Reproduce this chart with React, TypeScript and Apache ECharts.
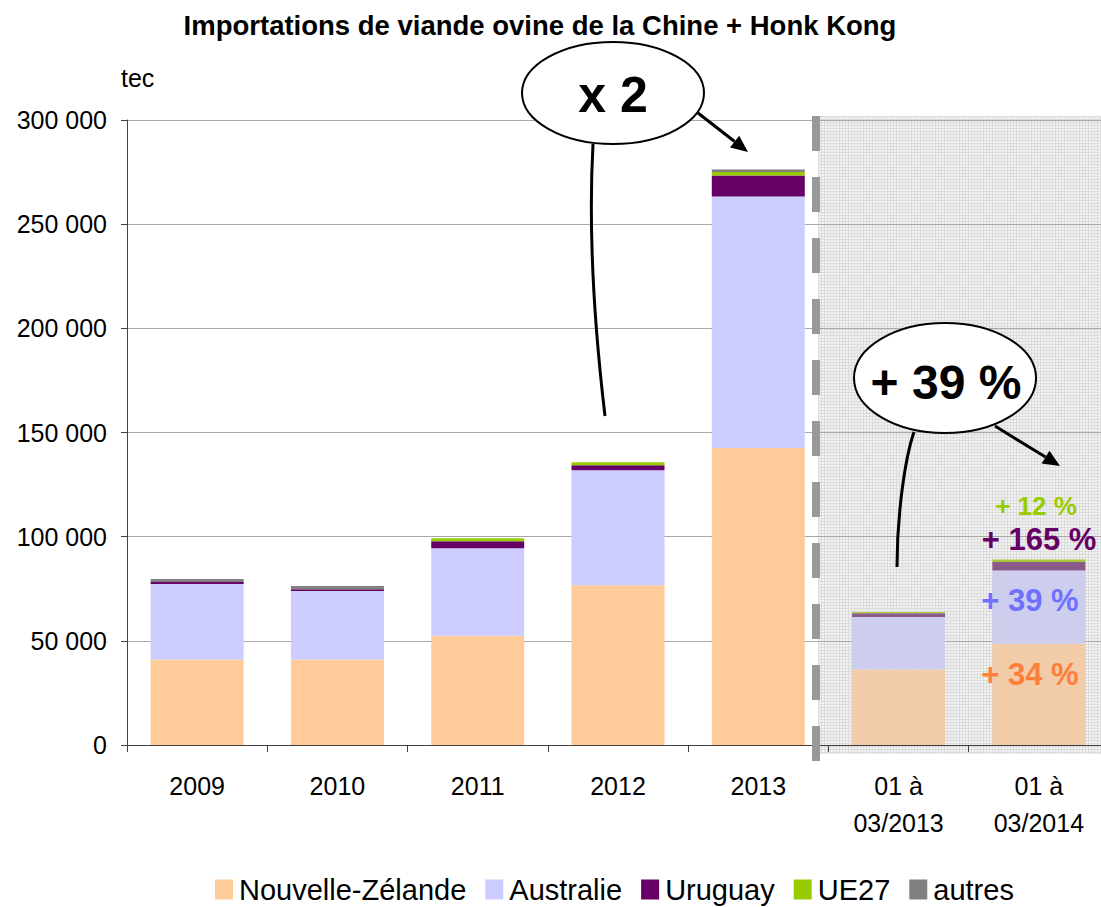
import React, { useEffect, useRef } from "react";
import * as echarts from "echarts";

const categories = ["2009", "2010", "2011", "2012", "2013", "01 à\n03/2013", "01 à\n03/2014"];
const seriesNames = ["Nouvelle-Zélande", "Australie", "Uruguay", "UE27", "autres"];
const nzValues = [41000, 41000, 52400, 76700, 142600, 36300, 48600];
const ausValues = [36300, 32900, 42100, 55200, 120700, 25200, 35200];
const uyValues = [1000, 900, 3300, 2400, 10100, 1700, 4000];
const ueValues = [0, 0, 1500, 1400, 1600, 600, 1300];
const otherValues = [1400, 1500, 0, 0, 1300, 0, 0];
const partialIndices = [5, 6];

const colors = ["#ffcc99", "#ccccff", "#660066", "#99cc00", "#808080"];
const washedColors = ["#f2cba8", "#cdcdee", "#8a5a8a", "#a6c83a", "#8c8c8c"];

const FONT = "'Liberation Sans', Arial, sans-serif";

const tileSvg =
  "<svg xmlns='http://www.w3.org/2000/svg' width='3' height='3'>" +
  "<rect width='3' height='3' fill='#f2f2f2'/>" +
  "<rect x='2' width='1' height='3' fill='#dcdcdc'/>" +
  "<rect y='2' width='3' height='1' fill='#dcdcdc'/></svg>";
const tileUrl = "data:image/svg+xml;charset=utf-8," + encodeURIComponent(tileSvg);

function fmt(v: number) {
  return String(v).replace(/\B(?=(\d{3})+(?!\d))/g, " ");
}

function arrow(x1: number, y1: number, x2: number, y2: number) {
  const dx = x2 - x1;
  const dy = y2 - y1;
  const len = Math.sqrt(dx * dx + dy * dy);
  const ux = dx / len;
  const uy = dy / len;
  const hl = 17;
  const hw = 7.5;
  const bx = x2 - ux * hl;
  const by = y2 - uy * hl;
  return [
    { type: "line", z: 20, shape: { x1, y1, x2: bx, y2: by }, style: { stroke: "#000", lineWidth: 3 } },
    {
      type: "polygon",
      z: 20,
      shape: { points: [[x2, y2], [bx - uy * hw, by + ux * hw], [bx + uy * hw, by - ux * hw]] },
      style: { fill: "#000" },
    },
  ];
}

export default function App() {
  const ref = useRef<HTMLDivElement>(null);

  useEffect(() => {
    if (!ref.current) return;
    const chart = echarts.init(ref.current, null, { renderer: "svg" });
    const valueSets = [nzValues, ausValues, uyValues, ueValues, otherValues];

    const series = valueSets.map((vals, si) => ({
      name: seriesNames[si],
      type: "bar",
      stack: "total",
      barWidth: 93,
      itemStyle: { color: colors[si] },
      z: 2,
      data: vals.map((v, i) =>
        partialIndices.includes(i) ? { value: v, itemStyle: { color: washedColors[si] } } : v
      ),
    }));

    const labelText = (text: string, x: number, y: number, size: number, color: string) => ({
      type: "text",
      z: 25,
      x,
      y,
      style: {
        text,
        fill: color,
        font: `bold ${size}px ${FONT}`,
        textAlign: "center",
        textVerticalAlign: "middle",
      },
    });

    chart.setOption({
      animation: false,
      backgroundColor: "#ffffff",
      textStyle: { fontFamily: FONT },
      grid: { left: 127, top: 120, width: 982, height: 625, containLabel: false },
      legend: {
        data: seriesNames,
        left: 210,
        top: 870,
        icon: "rect",
        itemWidth: 18,
        itemHeight: 20,
        itemGap: 19,
        textStyle: { fontSize: 29, color: "#000", fontFamily: FONT, padding: [0, 0, 0, 1] },
      },
      xAxis: {
        type: "category",
        data: categories,
        axisLine: { lineStyle: { color: "#404040", width: 1 } },
        axisTick: { show: true, length: 7, interval: 0, lineStyle: { color: "#404040" } },
        axisLabel: { interval: 0, fontSize: 25, color: "#000", margin: 22, lineHeight: 37, fontFamily: FONT },
        splitLine: { show: false },
      },
      yAxis: {
        type: "value",
        min: 0,
        max: 300000,
        interval: 50000,
        axisLine: { show: true, lineStyle: { color: "#404040", width: 1 } },
        axisTick: { show: true, length: 6, lineStyle: { color: "#404040" } },
        axisLabel: { fontSize: 25, color: "#000", margin: 20, formatter: (v: number) => fmt(v), fontFamily: FONT },
        splitLine: { lineStyle: { color: "#a8a8a8", width: 1 } },
      },
      series,
      graphic: {
        elements: [
          {
            type: "rect",
            z: -10,
            shape: { x: 818, y: 116, width: 300, height: 638 },
            style: { fill: { image: tileUrl, repeat: "repeat", imageWidth: 3, imageHeight: 3 } },
          },
          {
            type: "line",
            z: 15,
            shape: { x1: 816, y1: 116, x2: 816, y2: 764 },
            style: { stroke: "#999999", lineWidth: 8, lineDash: [35, 26] },
          },
          {
            type: "text",
            z: 25,
            x: 540,
            y: 25,
            style: {
              text: "Importations de viande ovine de la Chine + Honk Kong",
              fill: "#000",
              font: `bold 27.5px ${FONT}`,
              textAlign: "center",
              textVerticalAlign: "middle",
            },
          },
          {
            type: "text",
            z: 25,
            x: 121,
            y: 78,
            style: { text: "tec", fill: "#000", font: `25px ${FONT}`, textAlign: "left", textVerticalAlign: "middle" },
          },
          {
            type: "bezierCurve",
            z: 20,
            shape: { x1: 593, y1: 144, cpx1: 588, cpy1: 235, cpx2: 596, cpy2: 340, x2: 605, y2: 416 },
            style: { stroke: "#000", lineWidth: 3, fill: null },
          },
          {
            type: "ellipse",
            z: 21,
            shape: { cx: 613, cy: 93, rx: 91, ry: 51 },
            style: { fill: "#fff", stroke: "#000", lineWidth: 2 },
          },
          labelText("x 2", 613, 95, 50, "#000"),
          ...arrow(698, 113, 748, 152),
          {
            type: "bezierCurve",
            z: 20,
            shape: { x1: 914, y1: 432, cpx1: 905, cpy1: 458, cpx2: 897, cpy2: 515, x2: 897, y2: 567 },
            style: { stroke: "#000", lineWidth: 3, fill: null },
          },
          {
            type: "ellipse",
            z: 21,
            shape: { cx: 945, cy: 378, rx: 91, ry: 55 },
            style: { fill: "#fff", stroke: "#000", lineWidth: 2 },
          },
          labelText("+ 39 %", 946, 382, 48, "#000"),
          ...arrow(995, 426, 1060, 466),
          labelText("+ 12 %", 1036, 506, 26, "#99cc00"),
          labelText("+ 165 %", 1039, 539, 31, "#660066"),
          labelText("+ 39 %", 1030, 600, 31, "#7070ff"),
          labelText("+ 34 %", 1030, 674, 31, "#ff7f3a"),
        ],
      },
    });

    return () => chart.dispose();
  }, []);

  return (
    <div
      style={{
        position: "fixed",
        left: 0,
        top: 0,
        width: 1101,
        height: 907,
        overflow: "hidden",
        background: "#fff",
      }}
    >
      <div ref={ref} style={{ width: 1130, height: 907 }} />
    </div>
  );
}
